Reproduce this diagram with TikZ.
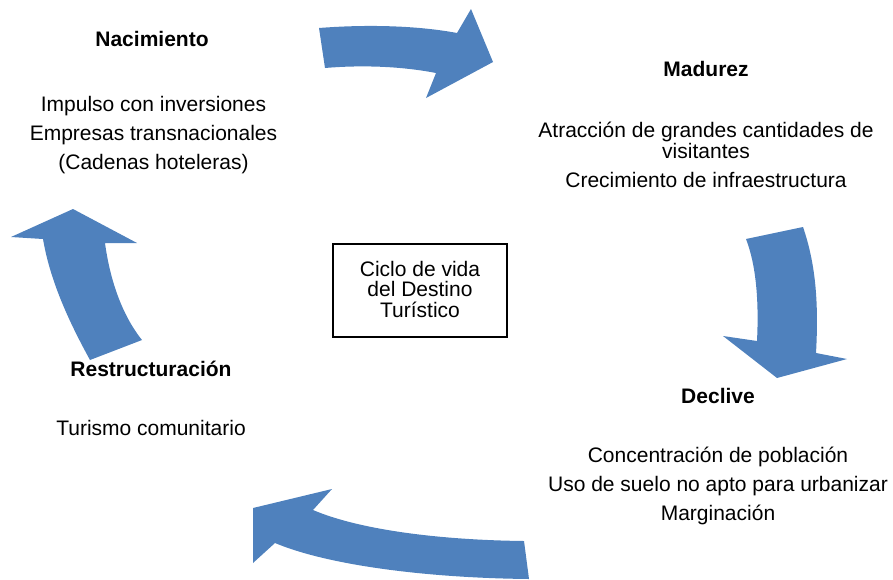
\documentclass[tikz,border=0pt]{standalone}
\usepackage{fontspec}
\setmainfont{Liberation Sans}
\definecolor{flechaazul}{RGB}{79,129,189}
\tikzset{
	etapa/.style={font=\fontsize{21}{29}\selectfont\bfseries, anchor=base},
	detalle/.style={font=\fontsize{21}{29}\selectfont, align=center, anchor=base},
	flecha/.style={fill=flechaazul, draw=none},
	ciclo/.style={draw, line width=1.2pt, minimum width=174pt, minimum height=93pt}
}

\begin{document}
\begin{tikzpicture}[x=1pt, y=-1pt]
			%%%%% START %%%%%
			\useasboundingbox (0, 0) rectangle (893, 579);
			
			\node[ciclo] (centro) at (420, 290.5) {};
			\node[detalle] (centrotxt) at (420, 317) {Ciclo de vida\\[-8.5pt]del Destino\\[-8.5pt]Turístico};
			
			\node[etapa] (nacimiento) at (152, 46) {Nacimiento};
			\node[detalle] (nacimientotxt) at (153.5, 169) {Impulso con inversiones\\Empresas transnacionales\\(Cadenas hoteleras)};
			
			\node[etapa] (madurez) at (706, 76) {Madurez};
			\node[detalle] (madureztxt) at (706, 187) {Atracción de grandes cantidades de\\[-8pt]visitantes\\Crecimiento de infraestructura};
			
			\node[etapa] (declive) at (718, 403) {Declive};
			\node[detalle] (declivetxt) at (718, 520) {Concentración de población\\Uso de suelo no apto para urbanizar\\Marginación};
			
			\node[etapa] (restructuracion) at (151, 376) {Restructuración};
			\node[detalle] (restructuraciontxt) at (151, 435) {Turismo comunitario};
			
			% flecha superior
			\draw[flecha] (319, 28) .. controls (370, 24) and (420, 26) .. (457, 33) -- (471, 9) -- (493, 62) -- (426, 98) -- (436, 73)
				.. controls (400, 66) and (360, 65) .. (325, 68) -- cycle;
			% flecha derecha
			\draw[flecha] (746, 239) -- (803, 227) .. controls (815, 262) and (819, 300) .. (816, 353) -- (847, 359) -- (777, 378) -- (723, 336) -- (757, 341)
				.. controls (759, 300) and (756, 265) .. (746, 239) -- cycle;
			% flecha inferior
			\draw[flecha] (524, 541) .. controls (440, 540) and (360, 530) .. (313, 510) -- (332, 489) -- (253, 508) -- (253, 563) -- (275, 543)
				.. controls (330, 566) and (430, 578) .. (529, 579) -- cycle;
			% flecha izquierda
			\draw[flecha] (73, 209) -- (137, 243) -- (105, 243) .. controls (110, 280) and (122, 315) .. (142, 340) -- (90, 360)
				.. controls (68, 320) and (50, 280) .. (43, 239) -- (11, 237) -- cycle;
			
			%%%%% END %%%%%
\end{tikzpicture}
\end{document}
